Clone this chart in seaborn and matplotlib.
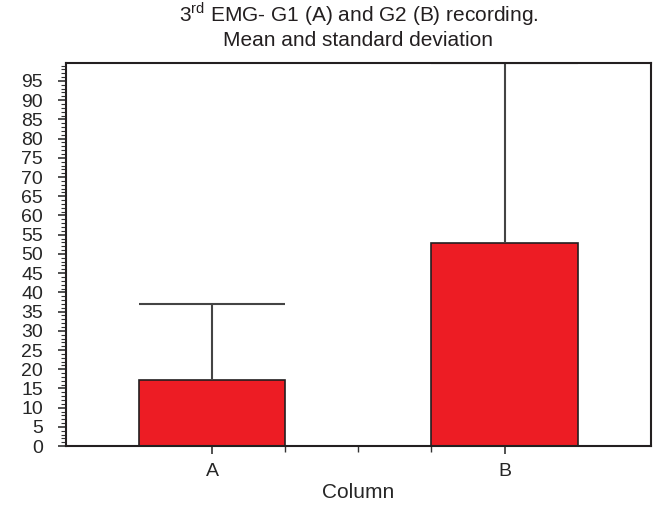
import numpy as np
import pandas as pd
import matplotlib
matplotlib.use('Agg')
import matplotlib.pyplot as plt
import seaborn as sns
from matplotlib.ticker import MultipleLocator, FixedLocator

groups = ['A', 'B']
means = [17.2, 52.8]
sds = [19.8, 46.8]

df = pd.DataFrame({'Column': groups, 'value': means})

sns.set_style('white')
plt.rcParams['font.family'] = ['Liberation Sans', 'DejaVu Sans']

fig, ax = plt.subplots(figsize=(6.54, 5.07), dpi=100)
fig.subplots_adjust(left=0.101, right=0.995, top=0.876, bottom=0.12)

sns.barplot(data=df, x='Column', y='value', color='#ed1c24', saturation=1,
            width=0.5, edgecolor='#231f20', linewidth=1.2, ax=ax, errorbar=None)

# upper half of the SD bar only, cap as wide as the bar
tops = [m + s for m, s in zip(means, sds)]
xs = np.arange(len(groups))
ax.vlines(xs, means, tops, color='#444444', lw=1.5, zorder=1)
ax.hlines(tops, xs - 0.25, xs + 0.25, color='#444444', lw=1.5, zorder=1)

ax.set_xlim(-0.5, 1.5)
ax.set_ylim(0, 99.7)
ax.yaxis.set_major_locator(MultipleLocator(5))
ax.yaxis.set_minor_locator(MultipleLocator(1))
ax.xaxis.set_minor_locator(FixedLocator([0.25, 0.5, 0.75]))

ax.tick_params(axis='y', which='major', direction='out', length=6, width=1.2,
               left=True, labelsize=14, pad=10.5, color='#333333')
ax.tick_params(axis='y', which='minor', direction='out', length=3.5, width=0.8,
               left=True, color='#333333')
ax.tick_params(axis='x', which='major', direction='out', length=6, width=1.2,
               bottom=True, labelsize=14, pad=6, color='#333333')
ax.tick_params(axis='x', which='minor', direction='out', length=4, width=1.0,
               bottom=True, color='#333333')

for sp in ax.spines.values():
    sp.set_visible(True)
    sp.set_color('#231f20')
    sp.set_linewidth(1.5)

ax.set_ylabel('')
ax.set_xlabel('Column', fontsize=15, labelpad=2)
ax.set_title('3$^{\\mathregular{rd}}$ EMG- G1 (A) and G2 (B) recording.\nMean and standard deviation',
             fontsize=15, pad=12, color='#231f20', linespacing=1.2)

fig.savefig('out.png', dpi=100)
